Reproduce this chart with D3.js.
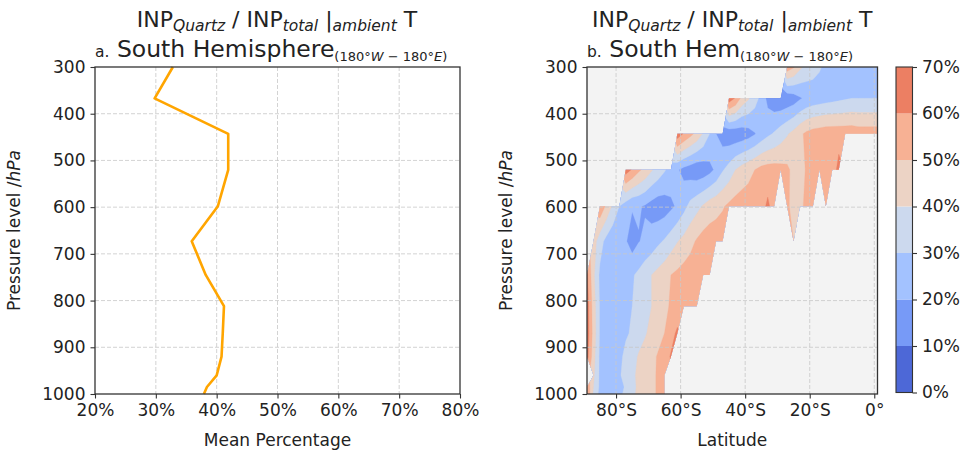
<!DOCTYPE html>
<html>
<head>
<meta charset="utf-8">
<title>INP Quartz share - South Hemisphere</title>
<script src="https://cdn.jsdelivr.net/npm/d3@7"></script>
<style>
  body { margin: 0; background: #fff; }
  svg text { font-family: "DejaVu Sans", sans-serif; fill: #222; }
</style>
</head>
<body>
<div id="chart"></div>
<script>
// pressure levels (hPa), shared by both panels
var levels = [300, 367, 443, 520, 598, 673, 745, 812, 870, 920, 960, 985, 1000];

// panel a : mean percentage at each level
var meanPct = [32.8, 29.8, 41.9, 41.9, 40.2, 35.9, 38.2, 41.2, 41.0, 40.8, 40.0, 38.4, 37.9];

// panel b : grid latitudes (deg, negative = south)
var lats = [-89, -87, -85, -83, -81, -79, -77, -75, -73, -71, -69, -67, -65, -63, -61, -59,
  -57, -55, -53, -51, -49, -47, -45, -43, -41, -39, -37, -35, -33, -31, -29, -27, -25, -23,
  -21, -19, -17, -15, -13, -11, -9, -7, -5, -3, -1, 1];

// contour levels (%) and colorbar ticks
var bandLevels = [0, 10, 20, 30, 40, 50, 60, 70];
var bandColors = ["#4d68d7", "#779af7", "#a3c2ff", "#ccd9ee", "#ecd3c5", "#f7b194", "#ec7f63"];

var N = null; // no data
// put a list of values on the latitude grid starting at startLat
function row(startLat, vals) {
  var r = lats.map(function () { return null; });
  var s = lats.indexOf(startLat);
  vals.forEach(function (v, k) { r[s + k] = v; });
  return r;
}

// percentage per level (rows) and latitude (columns)
var p300 = row(-27, [56, 51, 42, 37, 34, 31, 28, 26, 25, 25, 24, 24, 24, 24, 24]);
var p367 = row(-45, [66, 59, 47, 41, 34, 27, 17, 13, 12, 13, 15, 19, 22, 24, 25, 26, 27, 28, 29, 30, 30, 30, 30, 30]);
var p443 = row(-61, [66, 59, 53, 47, 39, 30, 20, 15, 13, 13, 14, 16, 19.5, 24, 28, 31, 35, 39, 43, 48,
  52, 54, 55, 56, 56, 56, 56, 56, 55, 55, 55, 55]);
var p520 = row(-77, [65, 59, 52, 47, 41, 36, 31, 26, 21, 17, 15, 13, 14, 17, 22, 29, 34, 40, 44, 47,
  50, 53, 54, 54, 53, 52, 47, 46, 51, 53, 52, 54, 55, 63]);
var p598 = row(-85, [58, 48, 38, 30, 25, 21, 21, 19, 16, 14, 15, 18, 21.5, 27, 33, 37, 41, 45, 47, 49,
  52, 54, 55, 55, 55, 56, 62, 55, N, 52, 46, 47, 53, 55, N, 54]);
var p673 = row(-87, [45, 34, 27, 23, 21, 21, 15, 19.5, 22, 24, 28, 31, 35, 39.5, 43, 47, 51, 54, 55, 55, 56,
  N, N, N, N, N, N, N, N, N, N, 50]);
var p745 = row(-89, [62, 42, 28, 24, 22, 23, 26, 29, 32, 36, 40, 43, 46, 50, 52, 54, 55, 55, 56, 56]);
var p812 = row(-89, [65, 45, 29, 24, 23, 24, 27, 30, 33, 36, 40, 44, 48, 51, 53, 54, 55, 55]);
var p870 = row(-89, [66, 46, 29, 25, 24, 26, 29, 31, 35, 39, 43, 46, 50, 56, 62]);
var p920 = row(-89, [64, 44, 28, 25, 25, 28, 32, 36, 41, 44, 47, 51, 55, 61]);
var p960 = row(-87, [42, 28, 25, 25, 29, 33, 38, 42, 45, 48, 51, 55]);
var p985 = row(-89, [58, 40, 28, 24, 24, 27, 31, 37, 42, 45, 48, 51, 54]);
var p1000 = row(-89, [60, 38, 27, 24, 25, 28, 32, 38, 42, 45, 48, 51, 54]);
var grid = [p300, p367, p443, p520, p598, p673, p745, p812, p870, p920, p960, p985, p1000];

var W = 967, H = 459;
var svg = d3.select("#chart").append("svg").attr("width", W).attr("height", H);

var yP = function (range) { return d3.scaleLinear().domain([300, 1000]).range(range); };
var yTop = 67, yBot = 394;

// ---------- shared helpers ----------
function styleAxis(g) {
  g.selectAll("path.domain").remove();
  g.selectAll("line").attr("stroke", "#333").attr("stroke-width", 1.1);
  g.selectAll("text").attr("font-size", "17px").attr("fill", "#222");
}
function gridLines(g, xs, ys, x, y, x0, x1) {
  g.selectAll(".gx").data(xs).enter().append("line")
    .attr("x1", function (d) { return x(d); }).attr("x2", function (d) { return x(d); })
    .attr("y1", yTop).attr("y2", yBot);
  g.selectAll(".gy").data(ys).enter().append("line")
    .attr("y1", function (d) { return y(d); }).attr("y2", function (d) { return y(d); })
    .attr("x1", x0).attr("x2", x1);
  g.selectAll("line").attr("stroke", "#c8c8c8").attr("stroke-width", 0.8)
    .attr("stroke-dasharray", "4,2");
}
function title(cx, xStart, label, region) {
  var t1 = svg.append("text").attr("x", cx).attr("y", 27).attr("text-anchor", "middle")
    .attr("font-size", "22px");
  t1.append("tspan").text("INP");
  t1.append("tspan").attr("font-size", "15.5px").attr("font-style", "italic").attr("dy", 4).text("Quartz");
  t1.append("tspan").attr("dy", -4).text(" / INP");
  t1.append("tspan").attr("font-size", "15.5px").attr("font-style", "italic").attr("dy", 4).text("total");
  t1.append("tspan").attr("dy", -4).text(" |");
  t1.append("tspan").attr("font-size", "15.5px").attr("font-style", "italic").attr("dy", 4).text("ambient");
  t1.append("tspan").attr("dy", -4).text(" T");

  var t2 = svg.append("text").attr("x", xStart).attr("y", 57).attr("font-size", "23.5px");
  t2.append("tspan").attr("font-size", "15.5px").text(label);
  t2.append("tspan").text(" " + region);
  var sub = t2.append("tspan").attr("font-size", "13px").attr("dy", 4);
  sub.append("tspan").text("(180°");
  sub.append("tspan").attr("font-style", "italic").text("W");
  sub.append("tspan").text(" − 180°");
  sub.append("tspan").attr("font-style", "italic").text("E");
  sub.append("tspan").text(")");
}
function yLabel(x) {
  var t = svg.append("text").attr("transform", "translate(" + x + "," + ((yTop + yBot) / 2) + ") rotate(-90)")
    .attr("text-anchor", "middle").attr("font-size", "17px");
  t.append("tspan").text("Pressure level /");
  t.append("tspan").attr("font-style", "italic").text("hPa");
}

// ---------- panel a : line profile ----------
var xa = d3.scaleLinear().domain([20, 80]).range([95, 460]);
var ya = yP([yTop, yBot]);
var ga = svg.append("g");
gridLines(ga.append("g"), [30, 40, 50, 60, 70], [400, 500, 600, 700, 800, 900], xa, ya, 95, 460);

ga.append("path")
  .datum(levels.map(function (p, k) { return { p: p, v: meanPct[k] }; }))
  .attr("fill", "none").attr("stroke", "#ffa500").attr("stroke-width", 2.6)
  .attr("stroke-linejoin", "round")
  .attr("d", d3.line().x(function (d) { return xa(d.v); }).y(function (d) { return ya(d.p); }));

ga.append("g").attr("transform", "translate(0," + yBot + ")")
  .call(d3.axisBottom(xa).tickValues([20, 30, 40, 50, 60, 70, 80]).tickSize(4.5).tickPadding(5)
    .tickFormat(function (d) { return d + "%"; }))
  .call(styleAxis);
ga.append("g").attr("transform", "translate(95,0)")
  .call(d3.axisLeft(ya).tickValues([300, 400, 500, 600, 700, 800, 900, 1000]).tickSize(4.5).tickPadding(5)
    .tickFormat(d3.format("d")))
  .call(styleAxis);
ga.append("rect").attr("x", 95).attr("y", yTop).attr("width", 460 - 95).attr("height", yBot - yTop)
  .attr("fill", "none").attr("stroke", "#333").attr("stroke-width", 1.3);

title(277, 95, "a.", "South Hemisphere");
yLabel(20);
svg.append("text").attr("x", 277.5).attr("y", 446).attr("text-anchor", "middle")
  .attr("font-size", "17px").text("Mean Percentage");

// ---------- panel b : latitude-pressure contours ----------
var x0 = 587, x1 = 877.5;
var xb = d3.scaleLinear().domain([-89, 1]).range([x0, x1]);
var yb = yP([yTop, yBot]);
var gb = svg.append("g");

gb.append("rect").attr("x", x0).attr("y", yTop).attr("width", x1 - x0).attr("height", yBot - yTop)
  .attr("fill", "#f3f3f3");

var nx = lats.length, ny = levels.length;
// fill the no-data cells from their neighbours, only so the contour tracer has numbers;
// those cells are clipped away afterwards
var work = grid.map(function (r) { return r.slice(); });
var missing = true;
while (missing) {
  missing = false;
  var next = work.map(function (r) { return r.slice(); });
  for (var j = 0; j < ny; j++) {
    for (var i = 0; i < nx; i++) {
      if (work[j][i] !== null) continue;
      var s = 0, c = 0;
      [[j - 1, i], [j + 1, i], [j, i - 1], [j, i + 1]].forEach(function (q) {
        if (q[0] >= 0 && q[0] < ny && q[1] >= 0 && q[1] < nx && work[q[0]][q[1]] !== null) {
          s += work[q[0]][q[1]]; c++;
        }
      });
      if (c) next[j][i] = s / c; else missing = true;
    }
  }
  work = next;
}
var flat = [];
work.forEach(function (r) { r.forEach(function (v) { flat.push(v); }); });

var iLat = d3.scaleLinear().domain(d3.range(nx)).range(lats).clamp(true);
var jLev = d3.scaleLinear().domain(d3.range(ny)).range(levels).clamp(true);
var proj = d3.geoTransform({
  point: function (x, y) { this.stream.point(xb(iLat(x - 0.5)), yb(jLev(y - 0.5))); }
});
var path = d3.geoPath(proj);

// valid area: full quads, or a triangle when only one corner has no data
var clipD = "";
for (var j = 0; j < ny - 1; j++) {
  for (var i = 0; i < nx - 1; i++) {
    var corners = [[i, j], [i + 1, j], [i + 1, j + 1], [i, j + 1]];
    var ok = corners.filter(function (q) { return grid[q[1]][q[0]] !== null; });
    if (ok.length < 3) continue;
    clipD += "M" + ok.map(function (q) {
      return xb(lats[q[0]]).toFixed(2) + "," + yb(levels[q[1]]).toFixed(2);
    }).join("L") + "Z";
  }
}
svg.append("defs").append("clipPath").attr("id", "valid")
  .append("path").attr("d", clipD);

var contours = d3.contours().size([nx, ny]).thresholds(bandLevels.slice(0, -1))(flat);
gb.append("g").attr("clip-path", "url(#valid)")
  .selectAll("path").data(contours).enter().append("path")
  .attr("d", path)
  .attr("fill", function (d, k) { return bandColors[k]; })
  .attr("stroke", function (d, k) { return bandColors[k]; })
  .attr("stroke-width", 0.3);

gridLines(gb.append("g"), [-80, -60, -40, -20, 0], [400, 500, 600, 700, 800, 900], xb, yb, x0, x1);

gb.append("g").attr("transform", "translate(0," + yBot + ")")
  .call(d3.axisBottom(xb).tickValues([-80, -60, -40, -20, 0]).tickSize(4.5).tickPadding(5)
    .tickFormat(function (d) { return d === 0 ? "0°" : Math.abs(d) + "°S"; }))
  .call(styleAxis);
gb.append("g").attr("transform", "translate(" + x0 + ",0)")
  .call(d3.axisLeft(yb).tickValues([300, 400, 500, 600, 700, 800, 900, 1000]).tickSize(4.5).tickPadding(5)
    .tickFormat(d3.format("d")))
  .call(styleAxis);
gb.append("rect").attr("x", x0).attr("y", yTop).attr("width", x1 - x0).attr("height", yBot - yTop)
  .attr("fill", "none").attr("stroke", "#333").attr("stroke-width", 1.3);

title((x0 + x1) / 2, x0, "b.", "South Hem");
yLabel(512);
svg.append("text").attr("x", (x0 + x1) / 2).attr("y", 446).attr("text-anchor", "middle")
  .attr("font-size", "17px").text("Latitude");

// ---------- colorbar ----------
var cbX = 896, cbW = 16.5;
var yc = d3.scaleLinear().domain([0, 70]).range([392.5, 67]);
var gc = svg.append("g");
gc.selectAll("rect.band").data(bandColors).enter().append("rect")
  .attr("x", cbX).attr("width", cbW)
  .attr("y", function (d, k) { return yc(bandLevels[k + 1]); })
  .attr("height", function (d, k) { return yc(bandLevels[k]) - yc(bandLevels[k + 1]); })
  .attr("fill", function (d) { return d; });
gc.append("g").attr("transform", "translate(" + (cbX + cbW) + ",0)")
  .call(d3.axisRight(yc).tickValues(bandLevels).tickSize(4.5).tickPadding(5)
    .tickFormat(function (d) { return d + "%"; }))
  .call(styleAxis);
gc.append("rect").attr("x", cbX).attr("y", yc(70)).attr("width", cbW).attr("height", yc(0) - yc(70))
  .attr("fill", "none").attr("stroke", "#333").attr("stroke-width", 1.1);
</script>
</body>
</html>
